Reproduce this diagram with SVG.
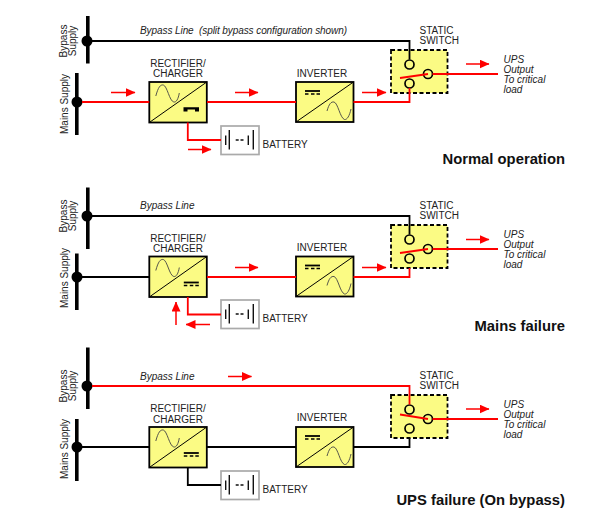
<svg xmlns="http://www.w3.org/2000/svg" xmlns:xlink="http://www.w3.org/1999/xlink" width="597" height="515" viewBox="0 0 597 515">
<style>
text{font-family:"Liberation Sans",Arial,sans-serif;font-size:10px;fill:#222}
.i{font-style:italic}
.t{font-weight:bold;font-size:14.8px;fill:#111;text-anchor:end}
.c{text-anchor:middle}
.bar{stroke:#000;stroke-width:3.6;fill:none}
.k{stroke:#000;stroke-width:1.8;fill:none}
.r{stroke:#f00;stroke-width:1.8;fill:none}
.box{fill:#fbfb84;stroke:#000;stroke-width:1.8}
.sw{fill:#fbfb84;stroke:#000;stroke-width:1.8;stroke-dasharray:4 2.5}
.thin{stroke:#000;stroke-width:1;fill:none}
.sin{stroke:#444;stroke-width:.9;fill:none}
.pin{fill:none;stroke:#000;stroke-width:1.7}
.bat{fill:#fff;stroke:#aaa;stroke-width:1.7}
.a{stroke:#f00;stroke-width:1.5;fill:none;marker-end:url(#ah)}
</style>
<defs>
<marker id="ah" markerUnits="userSpaceOnUse" markerWidth="10" markerHeight="9" refX="9.500" refY="4.500" orient="auto"><path d="M0 0L10 4.500L0 9Z" fill="#f00"/></marker>
<g id="dc"><path d="M0 0H15" stroke="#000" stroke-width="1.8"/><path d="M0 3H3.500M6 3H9.500M11.500 3H15" stroke="#000" stroke-width="1.400"/></g>
<g id="rectifier">
<rect class="box" x="0" y="0" width="57.500" height="40.500"/><path class="thin" d="M0 40.500L57.500 0"/>
<path class="sin" d="M6.500 14C9 5 11 2.500 14 3C18 4 20 19 24.500 20C27 20.500 29 17 30 11"/>
</g>
<g id="inverter">
<rect class="box" x="0" y="0" width="57.500" height="40"/><path class="thin" d="M0 40L57.500 0"/>
<use xlink:href="#dc" href="#dc" x="9" y="9"/>
<path class="sin" d="M31 29C33 22 35 19.500 38 20C42 21 44 36 48.500 37.500C51 38 53.500 34 55 27"/>
</g>
<g id="battery">
<rect class="bat" x="0" y="0" width="38" height="28.500"/>
<path d="M4.700 9.500V19M14.700 14H17.700M19.500 14H22.500M27.300 9.500V19" stroke="#111" stroke-width="1.400" fill="none"/>
<path d="M8.300 4V23.500M32.300 4V23.500" stroke="#111" stroke-width="1.400" fill="none"/>
</g>
<g id="switch">
<rect class="sw" x="0" y="0" width="56.500" height="43"/>
<circle class="pin" cx="18.500" cy="14.500" r="4.500"/><circle class="pin" cx="18.500" cy="33.500" r="4.500"/><circle class="pin" cx="37" cy="24" r="4.500"/>
</g>
</defs>

<g id="panel1-bypass-supply"><path class="bar" d="M87.800 16V63.500"/><circle cx="87" cy="41" r="5.500"/><text transform="translate(67 41) rotate(-90)" class="c">Bypass</text><text transform="translate(76 41) rotate(-90)" class="c">Supply</text></g>
<g id="panel1-mains-supply"><path class="bar" d="M76.800 73V135"/><circle cx="77" cy="102" r="5.500"/><text transform="translate(68 104) rotate(-90)" class="c">Mains Supply</text></g>
<g id="panel1-rectifier"><use xlink:href="#rectifier" href="#rectifier" x="149.300" y="82"/><path d="M183.500 107.300H199V111.500H195V109.600H187.500V111.500H183.500Z"/><text x="178" y="66.500" class="c">RECTIFIER/</text><text x="178" y="77" class="c">CHARGER</text></g>
<g id="panel1-inverter"><use xlink:href="#inverter" href="#inverter" x="296" y="82"/><text x="322" y="77" class="c">INVERTER</text></g>
<g id="panel1-battery"><use xlink:href="#battery" href="#battery" x="221" y="126"/><text x="262.500" y="148">BATTERY</text></g>
<g id="panel1-switch"><use xlink:href="#switch" href="#switch" x="391" y="50"/><text x="419.500" y="34">STATIC</text><text x="419.500" y="44">SWITCH</text></g>
<g id="panel1-output"><text class="i" x="503.500" y="63">UPS</text><text class="i" x="503.500" y="73">Output</text><text class="i" x="503.500" y="83">To critical</text><text class="i" x="503.500" y="93">load</text></g>
<text class="i" x="140" y="34" xml:space="preserve" textLength="207">Bypass Line  (split bypass configuration shown)</text>
<text class="t" x="565" y="164">Normal operation</text>

<g id="panel2-bypass-supply"><path class="bar" d="M87.800 187.500V249"/><circle cx="87" cy="216" r="5.500"/><text transform="translate(67 216) rotate(-90)" class="c">Bypass</text><text transform="translate(76 216) rotate(-90)" class="c">Supply</text></g>
<g id="panel2-mains-supply"><path class="bar" d="M76.800 253.500V310"/><circle cx="77" cy="277" r="5.500"/><text transform="translate(68 278) rotate(-90)" class="c">Mains Supply</text></g>
<g id="panel2-rectifier"><use xlink:href="#rectifier" href="#rectifier" x="149.300" y="256.500"/><use xlink:href="#dc" href="#dc" x="183.800" y="282.500"/><text x="178" y="241.500" class="c">RECTIFIER/</text><text x="178" y="252" class="c">CHARGER</text></g>
<g id="panel2-inverter"><use xlink:href="#inverter" href="#inverter" x="296" y="256.500"/><text x="322" y="251" class="c">INVERTER</text></g>
<g id="panel2-battery"><use xlink:href="#battery" href="#battery" x="221" y="300"/><text x="262.500" y="322">BATTERY</text></g>
<g id="panel2-switch"><use xlink:href="#switch" href="#switch" x="391" y="225"/><text x="419.500" y="209">STATIC</text><text x="419.500" y="219">SWITCH</text></g>
<g id="panel2-output"><text class="i" x="503.500" y="237.500">UPS</text><text class="i" x="503.500" y="247.500">Output</text><text class="i" x="503.500" y="257.500">To critical</text><text class="i" x="503.500" y="267.500">load</text></g>
<text class="i" x="140" y="209">Bypass Line</text>
<text class="t" x="565" y="331">Mains failure</text>

<g id="panel3-bypass-supply"><path class="bar" d="M87.800 347.500V409"/><circle cx="87" cy="386" r="5.500"/><text transform="translate(67 386) rotate(-90)" class="c">Bypass</text><text transform="translate(76 386) rotate(-90)" class="c">Supply</text></g>
<g id="panel3-mains-supply"><path class="bar" d="M76.800 419V481"/><circle cx="77" cy="447" r="5.500"/><text transform="translate(68 449) rotate(-90)" class="c">Mains Supply</text></g>
<g id="panel3-rectifier"><use xlink:href="#rectifier" href="#rectifier" x="149.300" y="427"/><use xlink:href="#dc" href="#dc" x="183.800" y="453"/><text x="178" y="412" class="c">RECTIFIER/</text><text x="178" y="422.500" class="c">CHARGER</text></g>
<g id="panel3-inverter"><use xlink:href="#inverter" href="#inverter" x="296" y="427"/><text x="322" y="421" class="c">INVERTER</text></g>
<g id="panel3-battery"><use xlink:href="#battery" href="#battery" x="221" y="471"/><text x="262.500" y="493">BATTERY</text></g>
<g id="panel3-switch"><use xlink:href="#switch" href="#switch" x="391" y="395"/><text x="419.500" y="379">STATIC</text><text x="419.500" y="389">SWITCH</text></g>
<g id="panel3-output"><text class="i" x="503.500" y="407.500">UPS</text><text class="i" x="503.500" y="417.500">Output</text><text class="i" x="503.500" y="427.500">To critical</text><text class="i" x="503.500" y="437.500">load</text></g>
<text class="i" x="140" y="379.500">Bypass Line</text>
<text class="t" x="565" y="505">UPS failure (On bypass)</text>

<g id="connectors">
<path class="k" d="M92 41H409.500V59.500"/>
<path class="r" d="M82 102H149.300M207 102H296M353.500 102H409.500V88"/>
<path class="r" d="M187.800 122.500V140H221"/>
<path class="r" d="M400 78L428 74M432.500 74H498"/>
<path class="a" d="M111 92.500H135"/><path class="a" d="M235 92.500H258"/><path class="a" d="M362 92.500H386"/><path class="a" d="M188 149.500H211"/><path class="a" d="M466 64H489"/>

<path class="k" d="M92 216H409.500V234.500"/>
<path class="k" d="M82 277H149.300"/>
<path class="r" d="M207 277H296M353.500 277H409.500V268"/>
<path class="r" d="M187.800 297V314.500H221"/>
<path class="r" d="M400 253L428 249M432.500 249H498"/>
<path class="a" d="M235 267.500H258"/><path class="a" d="M362 267.500H386"/><path class="a" d="M210 324.500H186"/><path class="a" d="M176 325V302"/><path class="a" d="M466 239.500H489"/>

<path class="r" d="M92 386H409.500V404.500"/>
<path class="k" d="M82 447H149.300M207 447H296M353.500 447H409.500V438"/>
<path class="k" d="M187.800 467.500V485H221"/>
<path class="r" d="M400 414.500L428 419M432.500 419H498"/>
<path class="a" d="M228 376.500H251.500"/><path class="a" d="M466 409H489"/>
</g>
</svg>
